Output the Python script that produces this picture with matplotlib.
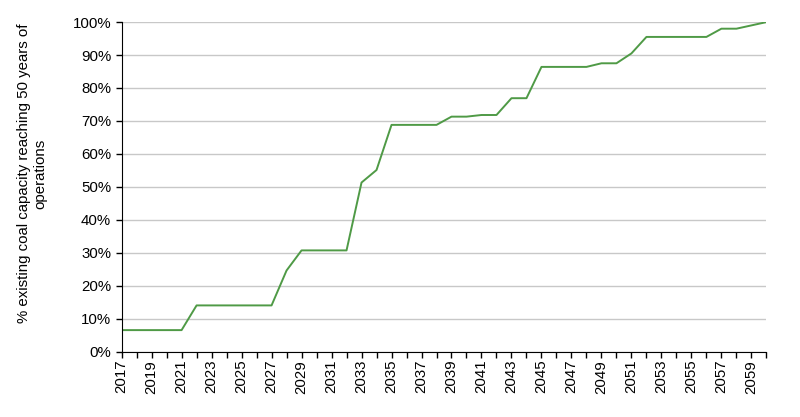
import matplotlib.pyplot as plt
import numpy as np
from matplotlib.ticker import PercentFormatter, MultipleLocator

plt.rcParams['font.family'] = ['Liberation Sans', 'DejaVu Sans']

years = list(range(2017, 2061))
share = [6.5, 6.5, 6.5, 6.5, 6.5,
         14.0, 14.0, 14.0, 14.0, 14.0, 14.0,
         24.6, 30.7, 30.7, 30.7, 30.7,
         51.3, 55.1, 68.8, 68.8, 68.8, 68.8,
         71.3, 71.3, 71.8, 71.8, 76.9, 76.9,
         86.4, 86.4, 86.4, 86.4, 87.5, 87.5,
         90.5, 95.5, 95.5, 95.5, 95.5, 95.5,
         98.0, 98.0, 99.0, 100.0]
ylabel = '% existing coal capacity reaching 50 years of\noperations'

fig = plt.figure(figsize=(8, 4.17), dpi=100)
ax = fig.add_axes([0.152, 0.157, 0.806, 0.79])
ax.plot(years, share, color='#4F9A46', lw=1.4)

ax.set_xlim(2017, 2060)
ax.set_ylim(0, 100)
ax.yaxis.set_major_locator(MultipleLocator(10))
ax.yaxis.set_major_formatter(PercentFormatter(decimals=0))
ax.set_xticks(years[::2])
ax.set_xticks(years, minor=True)
ax.set_xticklabels([str(y) for y in years[::2]], rotation=90)
ax.tick_params(axis='both', labelsize=10.8, direction='out', length=4, width=1, color='black')
ax.tick_params(axis='x', which='minor', length=4, width=1)
ax.tick_params(axis='x', pad=2)

ax.grid(axis='y', color='#c8c8c8', lw=1)
ax.set_axisbelow(True)
for s in ['top', 'right']:
    ax.spines[s].set_visible(False)
ax.spines['left'].set_color('black')
ax.spines['bottom'].set_color('black')

ax.set_ylabel(ylabel, fontsize=10.8, ha='center', linespacing=1.25)
ax.yaxis.set_label_coords(-0.115, 0.54)

fig.savefig('out.png', dpi=100)
